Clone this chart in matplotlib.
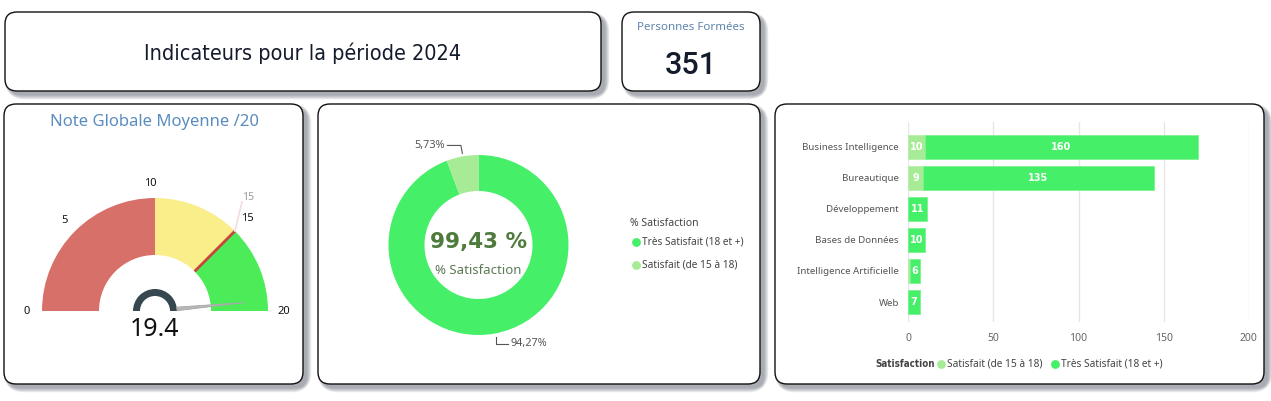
import matplotlib
matplotlib.use("Agg")
import matplotlib.pyplot as plt
from matplotlib.patches import FancyBboxPatch, Wedge, Polygon
import numpy as np

# ---------------- data ----------------
periode = "2024"
personnes_formees = 351
note_moyenne = 19.4
note_cible = 15
gauge_bands = [0, 10, 15, 20]
gauge_ticks = [0, 5, 10, 15, 20]

categories = ["Business Intelligence", "Bureautique", "Développement",
              "Bases de Données", "Intelligence Artificielle", "Web"]
satisfait = [10, 9, 0, 0, 1, 0]
tres_satisfait = [160, 135, 11, 10, 6, 7]
x_ticks = [0, 50, 100, 150, 200]

# ---------------- style ----------------
RED = "#D8706A"
YELLOW = "#F9EE8A"
GAUGE_GREEN = "#4BEC58"
GREEN = "#45EF67"
LIGHT = "#A8EB96"
FONT = "Noto Sans"
plt.rcParams['font.family'] = [FONT, 'DejaVu Sans']

W, H = 1271, 401
fig = plt.figure(figsize=(W / 100, H / 100), dpi=100)
fig.patch.set_facecolor('white')


def px_axes(x0, y0, x1, y1, z=1):
    ax = fig.add_axes([x0 / W, 1 - y1 / H, (x1 - x0) / W, (y1 - y0) / H], zorder=z)
    ax.set_facecolor('none')
    return ax


bg = px_axes(0, 0, W, H, z=0)
bg.set_xlim(0, W)
bg.set_ylim(H, 0)
bg.axis('off')

boxes = [(5, 12, 601, 91), (622, 12, 760, 91), (4, 104, 303, 384),
         (318, 104, 760, 384), (775, 104, 1264, 384)]
for (x0, y0, x1, y1) in boxes:
    for k in range(10):
        bg.add_patch(FancyBboxPatch((x0 + 4 - k * 0.5, y0 + 4 - k * 0.5),
                                    x1 - x0 + k, y1 - y0 + k,
                                    boxstyle="round,pad=0,rounding_size=%d" % (12 + k),
                                    fc="#4A5060", ec="none", alpha=0.06, zorder=1))
    bg.add_patch(FancyBboxPatch((x0, y0), x1 - x0, y1 - y0,
                                boxstyle="round,pad=0,rounding_size=12",
                                fc="white", ec="#111111", lw=1.0, zorder=2))

# ---------------- header ----------------
bg.text(303, 53, "Indicateurs pour la période " + periode, ha='center', va='center',
        fontsize=15.5, color="#141B2D", family=["DejaVu Sans"], fontstretch='condensed',
        fontweight='normal', zorder=3)
bg.text(691, 27, "Personnes Formées", ha='center', va='center', fontsize=8.3,
        color="#5F84AC", zorder=3)
bg.text(691, 65, f"{personnes_formees}", ha='center', va='center', fontsize=22,
        color="#141B2D", family=["Roboto", "DejaVu Sans"], fontweight='medium', zorder=3)

# ---------------- gauge ----------------
gcx, gcy = 155, 311
ga = px_axes(4, 104, 303, 384, z=3)
ga.set_xlim(4 - gcx, 303 - gcx)
ga.set_ylim(-(384 - gcy), gcy - 104)
ga.set_aspect('equal')
ga.axis('off')

R_OUT, R_IN = 113, 56
gmin, gmax = gauge_bands[0], gauge_bands[-1]


def ang(v):
    return 180.0 * (1 - (v - gmin) / (gmax - gmin))


for (a, b), col in zip(zip(gauge_bands[:-1], gauge_bands[1:]), [RED, YELLOW, GAUGE_GREEN]):
    ga.add_patch(Wedge((0, 0), R_OUT, ang(b), ang(a), width=R_OUT - R_IN, fc=col, ec='none'))

# target marker
t = np.radians(ang(note_cible))
ga.plot([R_IN * np.cos(t), R_OUT * np.cos(t)], [R_IN * np.sin(t), R_OUT * np.sin(t)],
        color="#C8453F", lw=2, solid_capstyle='butt')
ga.plot([R_OUT * np.cos(t), 87], [R_OUT * np.sin(t), 109], color="#F4DCDC", lw=1.2)
ga.text(93, 113, f"{note_cible}", ha='center', va='center', fontsize=7.5, color="#9A9A9A")

# tick labels
tick_r = [128, 128, 127, 131, 129]
tick_dx = [0, 0, -5, 0, 0]
for v, r, dx in zip(gauge_ticks, tick_r, tick_dx):
    th = np.radians(ang(v))
    ga.text(r * np.cos(th) + dx, r * np.sin(th), f"{v}",
            ha='center', va='center', fontsize=8, color="#111111")

# needle hub
ga.add_patch(Wedge((0, 0), 22, 0, 180, width=7, fc="#37474F", ec='none'))
th = np.radians(ang(note_moyenne))
perp = th + np.pi / 2
base = np.array([22 * np.cos(th), 22 * np.sin(th)])
tip = np.array([90 * np.cos(th), 90 * np.sin(th)])
off = np.array([np.cos(perp), np.sin(perp)]) * 1.8
ga.add_patch(Polygon([base + off, tip, base - off], closed=True, fc="#B8B8B8", ec="#A8A8A8", lw=0.6))
ga.text(0, -19, f"{note_moyenne:.1f}", ha='center', va='center', fontsize=18, color="#111111")
ga.text(0, gcy - 122, "Note Globale Moyenne /20", ha='center', va='center', fontsize=12,
        color="#5A8CC0")

# ---------------- donut ----------------
dcx, dcy = 478.5, 245
da = px_axes(318, 104, 760, 384, z=3)
tot_sat = sum(satisfait)
tot_tres = sum(tres_satisfait)
tot = tot_sat + tot_tres
share = [tot_tres / tot * 100, tot_sat / tot * 100]
da.pie(share, colors=[GREEN, LIGHT], startangle=90, counterclock=False, radius=90,
       wedgeprops=dict(width=36, edgecolor='none'))
da.set_xlim(318 - dcx, 760 - dcx)
da.set_ylim(-(384 - dcy), dcy - 104)
da.set_aspect('equal')
da.axis('off')


def fr(v):
    return f"{v:.2f}".replace('.', ',')


# labels with leader lines
mid_small = np.radians(90 + share[1] * 3.6 / 2)
p = (90 * np.cos(mid_small), 90 * np.sin(mid_small))
da.plot([p[0], p[0] - 1.5, p[0] - 15], [p[1] + 3, p[1] + 11, p[1] + 11], color="#555555", lw=0.8)
da.text(p[0] - 18, p[1] + 11, fr(share[1]) + "%", ha='right', va='center', fontsize=7.8, color="#555555")
mid_big = np.radians(90 - share[0] * 3.6 / 2)
q = (90 * np.cos(mid_big), 90 * np.sin(mid_big))
da.plot([q[0] + 1.5, q[0] + 1.5, q[0] + 13], [q[1] - 3, q[1] - 10, q[1] - 10], color="#555555", lw=0.8)
da.text(q[0] + 16, q[1] - 10, fr(share[0]) + "%", ha='left', va='center', fontsize=7.8, color="#555555")

sat_global = tot / personnes_formees * 100
da.text(0, 3, fr(sat_global) + " %", ha='center', va='center', fontsize=15.5, fontweight='bold',
        color="#4E7A3C", family=["DejaVu Sans"])
da.text(0, -25, "% Satisfaction", ha='center', va='center', fontsize=9.5, color="#5B7A55")

# legend
bg.text(630, 223, "% Satisfaction", ha='left', va='center', fontsize=7.5, color="#444444", zorder=4)
for yy, col, lab in [(242, GREEN, "Très Satisfait (18 et +)"), (265, LIGHT, "Satisfait (de 15 à 18)")]:
    bg.scatter([636], [yy], s=40, color=col, zorder=4, lw=0)
    bg.text(642, yy, lab, ha='left', va='center', fontsize=7.3, color="#444444", zorder=4)

# ---------------- bar chart ----------------
ba = px_axes(908, 122, 1249, 322, z=3)
y = np.arange(len(categories))
ba.barh(y, satisfait, height=0.8, color=LIGHT, edgecolor="#B8F0AC", lw=0.6, zorder=2)
ba.barh(y, tres_satisfait, left=satisfait, height=0.8, color=GREEN, edgecolor="#7CF290", lw=0.6, zorder=2)
ba.set_xlim(0, 200)
ba.set_ylim(5 + 20 / 31, -25 / 31)
ba.set_xticks(x_ticks)
ba.set_xticklabels([str(v) for v in x_ticks])
ba.set_yticks(y)
ba.set_yticklabels(categories)
ba.tick_params(length=0, labelsize=7, labelcolor="#555555")
ba.tick_params(axis='x', pad=8, labelsize=7.5, labelcolor="#666666")
ba.tick_params(axis='y', pad=6.5)
for s in ba.spines.values():
    s.set_visible(False)
ba.grid(axis='x', color="#E6E6E6", lw=1, zorder=0)
ba.set_axisbelow(True)
for i in range(len(categories)):
    if satisfait[i] >= 3:
        ba.text(satisfait[i] / 2, i, str(satisfait[i]), ha='center', va='center', color='white',
                fontsize=7, fontweight='bold', family=["DejaVu Sans"], zorder=3)
    if tres_satisfait[i] >= 3:
        ba.text(satisfait[i] + tres_satisfait[i] / 2, i, str(tres_satisfait[i]), ha='center', va='center',
                color='white', fontsize=7, fontweight='bold', family=["DejaVu Sans"], zorder=3)

# legend under bars
bg.text(875, 364, "Satisfaction", ha='left', va='center', fontsize=7, fontweight='bold',
        family=["DejaVu Sans"], fontstretch='condensed', color="#444444", zorder=4)
bg.scatter([941], [364], s=40, color=LIGHT, lw=0, zorder=4)
bg.text(947, 364, "Satisfait (de 15 à 18)", ha='left', va='center', fontsize=7.3, color="#444444", zorder=4)
bg.scatter([1055], [364], s=40, color=GREEN, lw=0, zorder=4)
bg.text(1061, 364, "Très Satisfait (18 et +)", ha='left', va='center', fontsize=7.3, color="#444444", zorder=4)

fig.savefig("out.png", dpi=100, facecolor='white')
